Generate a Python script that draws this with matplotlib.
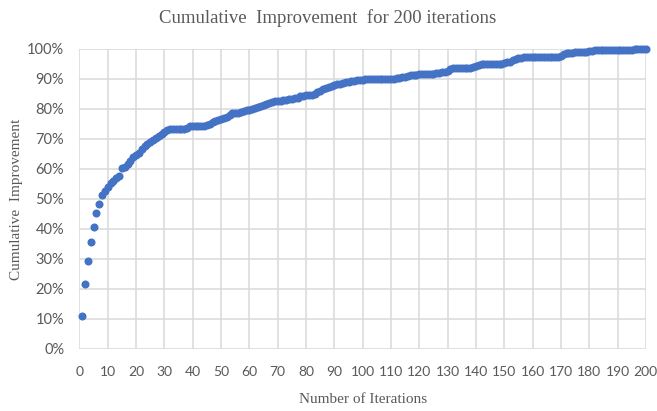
#!/usr/bin/env python3
import matplotlib
matplotlib.use('Agg')
import matplotlib.pyplot as plt
from matplotlib.ticker import PercentFormatter

# cumulative improvement (%), one value per iteration
improvement = [
    11.0, 21.5, 29.3, 35.8, 40.6, 45.3, 48.4, 51.4, 52.6, 53.9,
    55.2, 56.1, 57.0, 57.6, 60.3, 60.7, 61.5, 62.8, 64.1, 64.6,
    65.4, 66.5, 67.6, 68.4, 69.1, 69.8, 70.4, 71.0, 71.7, 72.3,
    72.9, 73.3, 73.3, 73.3, 73.3, 73.3, 73.4, 73.7, 74.2, 74.2,
    74.2, 74.2, 74.2, 74.3, 74.5, 75.0, 75.5, 75.9, 76.4, 76.8,
    77.0, 77.3, 77.9, 78.5, 78.7, 78.8, 79.0, 79.3, 79.6, 79.8,
    80.0, 80.3, 80.6, 80.9, 81.2, 81.6, 81.9, 82.2, 82.5, 82.6,
    82.8, 82.9, 83.1, 83.2, 83.3, 83.5, 83.8, 84.2, 84.4, 84.5,
    84.6, 84.7, 85.0, 85.6, 86.0, 86.8, 87.1, 87.4, 87.6, 88.0,
    88.2, 88.4, 88.6, 88.9, 89.1, 89.3, 89.4, 89.6, 89.7, 89.8,
    89.9, 90.0, 90.1, 90.1, 90.1, 90.1, 90.1, 90.1, 90.1, 90.1,
    90.1, 90.2, 90.4, 90.6, 90.8, 91.0, 91.2, 91.3, 91.4, 91.5,
    91.5, 91.6, 91.7, 91.8, 91.8, 91.9, 92.0, 92.2, 92.4, 92.7,
    93.3, 93.8, 93.8, 93.8, 93.8, 93.8, 93.8, 93.8, 93.9, 94.2,
    94.6, 94.9, 94.9, 94.9, 94.9, 94.9, 94.9, 94.9, 95.0, 95.3,
    95.6, 95.8, 96.2, 96.7, 97.0, 97.1, 97.2, 97.2, 97.2, 97.2,
    97.2, 97.2, 97.2, 97.2, 97.2, 97.2, 97.2, 97.2, 97.3, 97.8,
    98.3, 98.6, 98.7, 98.8, 98.9, 99.0, 99.0, 99.1, 99.1, 99.2,
    99.4, 99.6, 99.7, 99.7, 99.7, 99.7, 99.7, 99.7, 99.7, 99.7,
    99.7, 99.7, 99.8, 99.8, 99.8, 99.9, 99.9, 100.0, 100.0, 100.0,
]
iterations = list(range(1, len(improvement) + 1))

xticks = list(range(0, 201, 10))
yticks = list(range(0, 101, 10))

title = 'Cumulative  Improvement  for 200 iterations'
xlabel = 'Number of Iterations'
ylabel = 'Cumulative  Improvement'

gray = '#595959'
serif = ['Liberation Serif', 'DejaVu Serif']
sans = ['Lato', 'DejaVu Sans']

fig = plt.figure(figsize=(6.57, 4.11), dpi=100)
ax = fig.add_axes([0.121, 0.151, 0.862, 0.730])

ax.plot(iterations, improvement, 'o', color='#4472C4', markersize=5.8,
        markeredgewidth=0, clip_on=False, zorder=3)

ax.set_xlim(0, 200)
ax.set_ylim(0, 100)
ax.set_xticks(xticks)
ax.set_yticks(yticks)
ax.yaxis.set_major_formatter(PercentFormatter(decimals=0))
ax.grid(True, color='#D9D9D9', linewidth=1.1)
ax.set_axisbelow(True)
for s in ax.spines.values():
    s.set_visible(False)
ax.tick_params(axis='x', length=0, pad=12, colors=gray, labelsize=10)
ax.tick_params(axis='y', length=0, pad=11, colors=gray, labelsize=10.5)
for lab in ax.get_xticklabels() + ax.get_yticklabels():
    lab.set_family(sans)

ax.set_xlabel(xlabel, family=serif, fontsize=11, color=gray)
ax.set_ylabel(ylabel, family=serif, fontsize=11, color=gray)
ax.xaxis.set_label_coords(0.5, -0.148)
ax.yaxis.set_label_coords(-0.099, 0.5)
fig.text(0.498, 0.955, title, family=serif, fontsize=13.5, color=gray,
         ha='center', va='center')

fig.savefig('out.png', dpi=100)
